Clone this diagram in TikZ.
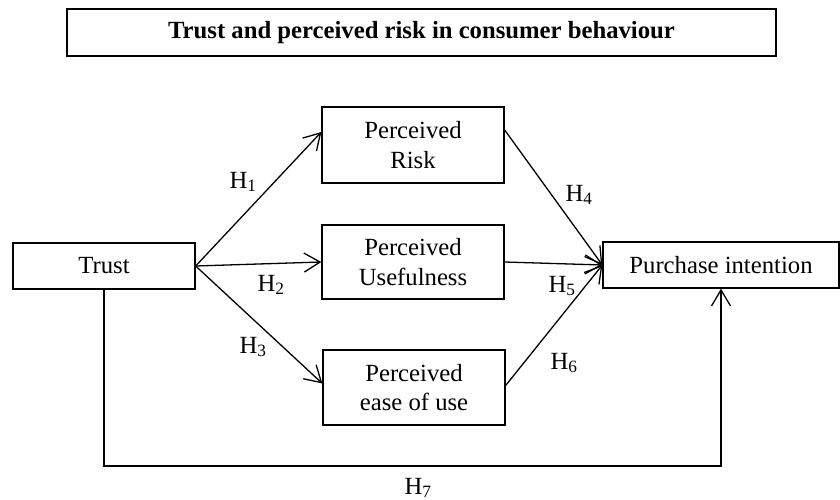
\documentclass[tikz,border=0pt]{standalone}
\usepackage{fontspec}
\setmainfont{Liberation Serif}
\usetikzlibrary{arrows.meta,positioning}

\begin{document}
\begin{tikzpicture}[
  x=1pt,y=-1pt,
  font=\fontsize{24.7}{29.6}\selectfont,
  line width=1.3pt,
  box/.style={draw,minimum height=46pt,minimum width=182pt,align=center,inner sep=0pt},
  cbox/.style={box,minimum height=76pt},
  hyp/.style={inner sep=0pt},
  >/.tip={Straight Barb[length=16pt,width=19pt]},every edge/.style={draw,->}
]
\useasboundingbox (0,0) rectangle (840,500);
\node[box,minimum width=709pt,minimum height=47pt,font=\fontsize{24.7}{29.6}\selectfont\bfseries] (title) at (421.5,32.5) {Trust and perceived risk in consumer behaviour};
\node[box] (trust) at (104,266) {Trust};
\node[cbox] (risk) at (413,145) {Perceived\\Risk};
\node[cbox,minimum height=74pt] (use) at (413,262) {Perceived\\Usefulness};
\node[cbox,minimum height=75pt] (ease) at (414,387.5) {Perceived\\ease of use};
\node[box,minimum width=236pt] (pi) at (721,265) {Purchase intention};
\coordinate (base) at (0,466);
\draw (trust.east) edge ([yshift=13pt]risk.west);
\draw (trust.east) edge (use.west);
\draw (trust.east) edge ([yshift=4pt]ease.west);
\draw ([yshift=15pt]risk.east) edge (pi.west);
\draw (use.east) edge (pi.west);
\draw ([yshift=2pt]ease.east) edge (pi.west);
\draw[->] (trust.south) |- (pi.south |- base) -- (pi.south);
\node[hyp] (h1) at (243,182) {H\textsubscript{1}};
\node[hyp] (h2) at (271,285) {H\textsubscript{2}};
\node[hyp] (h3) at (253,347) {H\textsubscript{3}};
\node[hyp] (h4) at (579,195) {H\textsubscript{4}};
\node[hyp] (h5) at (562,286) {H\textsubscript{5}};
\node[hyp] (h6) at (564,363) {H\textsubscript{6}};
\node[hyp] (h7) at (418,488) {H\textsubscript{7}};
\end{tikzpicture}
\end{document}
